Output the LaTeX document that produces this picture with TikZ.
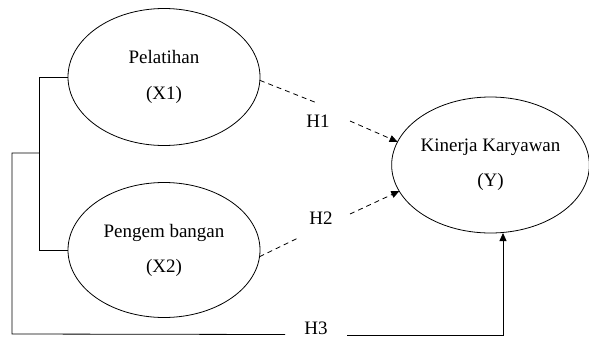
\documentclass[tikz,border=0pt]{standalone}
\usepackage{fontspec}
\setmainfont{Liberation Serif}
\usetikzlibrary{arrows.meta,shapes.geometric}
\begin{document}
\begin{tikzpicture}[x=1pt,y=-1pt,
  construct/.style={draw, ellipse, line width=0.8pt, inner sep=0pt, outer sep=0pt, align=center, font=\fontsize{19}{23}\selectfont},
  link/.style={line width=0.8pt},
  hyp/.style={link, dash pattern=on 5pt off 4pt},
  tip/.style={-{Triangle[length=8pt,width=7pt]}},
  lbl/.style={font=\fontsize{19}{23}\selectfont, inner sep=0pt}]
\useasboundingbox (0,0) rectangle (589,338);
% constructs
\node[construct, minimum width=192pt, minimum height=137pt] (X1) at (164,77) {Pelatihan\\[13pt](X1)};
\node[construct, minimum width=192pt, minimum height=135pt] (X2) at (164,250) {Pengem bangan\\[12pt](X2)};
\node[construct, minimum width=195pt, minimum height=136pt] (Y) at (490.5,165) {Kinerja Karyawan\\[12pt](Y)};
% labels
\node[lbl] (H1) at (318,121) {H1};
\node[lbl] (H2) at (321,218) {H2};
\node[lbl] (H3) at (316,328) {H3};
% helper coordinates
\coordinate (h1a) at (317,103);
\coordinate (h1b) at (350,121);
\coordinate (h2a) at (298,238);
\coordinate (h2b) at (350,214);
\coordinate (b1) at (39,77);
\coordinate (b2) at (39,250);
\coordinate (j1) at (39,153);
\coordinate (o1) at (12,153);
\coordinate (o2) at (12,334);
\coordinate (h3a) at (285,334.5);
\coordinate (h3b) at (347,335);
\coordinate (c4) at (503,335);
% hypotheses H1, H2
\draw[hyp] (X1.-2) -- (h1a);
\draw[hyp, tip] (h1b) -- (Y.166);
\draw[hyp] (X2.-4) -- (h2a);
\draw[hyp, tip] (h2b) -- (Y.196);
% bracket joining X1 and X2
\draw[link] (X1.west) -- (b1) -- (b2) -- (X2.west);
% H3 path
\draw[link] (j1) -- (o1) -- (o2) -- (h3a);
\draw[link, tip] (h3b) -- (c4) -- (c4 |- Y.south);
\end{tikzpicture}
\end{document}
